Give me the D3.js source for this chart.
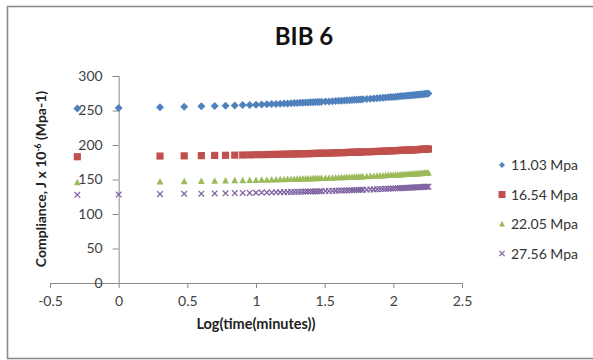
<!DOCTYPE html>
<html>
<head>
<meta charset="utf-8">
<script src="https://cdn.jsdelivr.net/npm/d3@7/dist/d3.min.js"></script>
<style>
  html, body { margin: 0; padding: 0; background: #fff; }
  svg { display: block; font-family: Lato, "Open Sans", sans-serif; }
</style>
</head>
<body>
<svg id="chart" width="593" height="360"></svg>
<script>
// Creep test readings, time in minutes
const timeMin = [0.5,
  1,2,3,4,5,6,7,8,9,10,11,12,13,14,15,16,17,18,19,20,21,22,23,24,25,26,27,28,29,30,
  32,34,36,38,40,42,44,46,48,50,52,54,56,58,60,
  64,68,72,76,80,84,88,92,96,100,104,108,112,116,120,124,128,132,136,140,144,148,152,156,160,164,168,172,176,180];

// Compliance J x 10^-6 (Mpa-1) for each stress level
const s1103 = [253.0,
  253.8,254.8,255.5,256.1,256.6,257.0,257.4,257.8,258.1,258.5,258.8,259.0,259.3,259.6,259.8,260.0,260.3,260.5,260.7,260.9,261.1,261.3,261.5,261.6,261.8,262.0,262.2,262.3,262.5,262.6,
  262.9,263.2,263.5,263.8,264.1,264.3,264.6,264.8,265.0,265.3,265.5,265.7,265.9,266.1,266.3,
  266.7,267.1,267.5,267.8,268.2,268.5,268.8,269.1,269.4,269.7,270.0,270.3,270.6,270.9,271.1,271.4,271.6,271.9,272.1,272.4,272.6,272.8,273.1,273.3,273.5,273.7,274.0,274.2,274.4,274.6];
const s1654 = [183.0,
  null,184.0,184.3,184.6,184.9,185.1,185.3,185.5,185.7,185.9,186.0,186.2,186.3,186.4,186.6,186.7,186.8,186.9,187.0,187.1,187.2,187.3,187.4,187.5,187.6,187.7,187.8,187.9,188.0,188.0,
  188.2,188.3,188.5,188.6,188.8,188.9,189.0,189.2,189.3,189.4,189.5,189.6,189.7,189.8,190.0,
  190.1,190.3,190.5,190.7,190.9,191.1,191.2,191.4,191.6,191.7,191.9,192.0,192.2,192.3,192.4,192.6,192.7,192.8,193.0,193.1,193.2,193.3,193.4,193.6,193.7,193.8,193.9,194.0,194.1,194.2];
const s2205 = [145.5,
  null,146.6,147.1,147.5,147.8,148.1,148.4,148.6,148.8,149.0,149.2,149.4,149.6,149.7,149.9,150.1,150.2,150.3,150.5,150.6,150.7,150.9,151.0,151.1,151.2,151.3,151.4,151.5,151.6,151.7,
  151.9,152.1,152.3,152.5,152.7,152.8,153.0,153.1,153.3,153.4,153.6,153.7,153.9,154.0,154.1,
  154.4,154.6,154.9,155.1,155.3,155.5,155.8,156.0,156.1,156.3,156.5,156.7,156.9,157.1,157.2,157.4,157.6,157.7,157.9,158.1,158.2,158.4,158.5,158.7,158.8,158.9,159.1,159.2,159.4,159.5];
const s2756 = [127.8,
  128.2,128.8,129.2,129.5,129.8,130.0,130.3,130.5,130.6,130.8,131.0,131.1,131.3,131.4,131.5,131.7,131.8,131.9,132.0,132.1,132.3,132.4,132.5,132.6,132.7,132.7,132.8,132.9,133.0,133.1,
  133.3,133.4,133.6,133.7,133.9,134.0,134.2,134.3,134.4,134.5,134.7,134.8,134.9,135.0,135.1,
  135.3,135.6,135.7,135.9,136.1,136.3,136.5,136.7,136.8,137.0,137.2,137.3,137.5,137.6,137.8,137.9,138.0,138.2,138.3,138.4,138.6,138.7,138.8,138.9,139.1,139.2,139.3,139.4,139.5,139.6];

const seriesNames = ["11.03 Mpa", "16.54 Mpa", "22.05 Mpa", "27.56 Mpa"];
const xTicks = [-0.5, 0, 0.5, 1, 1.5, 2, 2.5];
const yTicks = [0, 50, 100, 150, 200, 250, 300];

const series = [
  { name: seriesNames[0], values: s1103, color: "#4F81BD", shape: "diamond" },
  { name: seriesNames[1], values: s1654, color: "#C0504D", shape: "square" },
  { name: seriesNames[2], values: s2205, color: "#9BBB59", shape: "triangle" },
  { name: seriesNames[3], values: s2756, color: "#8064A2", shape: "cross" }
];

const svg = d3.select("#chart");

// outer chart frame
svg.append("rect")
  .attr("x", 7.5).attr("y", 6.5).attr("width", 620).attr("height", 352)
  .attr("fill", "#fff").attr("stroke", "#8a8a8a").attr("stroke-width", 1.6);

const x = d3.scaleLinear().domain([-0.5, 2.5]).range([50, 462]);
const y = d3.scaleLinear().domain([0, 300]).range([283, 76]);

// title
svg.append("text")
  .attr("x", 304).attr("y", 45)
  .attr("text-anchor", "middle")
  .attr("font-size", 24).attr("font-weight", "bold").attr("fill", "#111")
  .text("BIB 6");

// x axis, drawn along y = 0
const xAxis = svg.append("g")
  .attr("transform", `translate(0,${y(0)})`)
  .call(d3.axisBottom(x).tickValues(xTicks).tickSize(5).tickPadding(8)
    .tickFormat(d => String(d)));
xAxis.select(".domain").attr("stroke", "#8a8a8a");
xAxis.selectAll(".tick line").attr("stroke", "#8a8a8a");
xAxis.selectAll(".tick text")
  .attr("font-size", 14).attr("fill", "#404040")
  .attr("font-family", "Lato, 'Open Sans', sans-serif");

// y axis, drawn along x = 0
const yAxis = svg.append("g")
  .attr("transform", `translate(${x(0)},0)`)
  .call(d3.axisLeft(y).tickValues(yTicks).tickSize(6).tickPadding(10));
yAxis.select(".domain").attr("stroke", "#8a8a8a");
yAxis.selectAll(".tick line").attr("stroke", "#8a8a8a");
yAxis.selectAll(".tick text")
  .attr("font-size", 14).attr("fill", "#404040")
  .attr("font-family", "Lato, 'Open Sans', sans-serif");

// axis titles
svg.append("text")
  .attr("x", 256).attr("y", 329)
  .attr("text-anchor", "middle")
  .attr("font-size", 14.5).attr("font-weight", "bold").attr("fill", "#222")
  .text("Log(time(minutes))");

const yTitle = svg.append("text")
  .attr("transform", "translate(46,179) rotate(-90)")
  .attr("text-anchor", "middle")
  .attr("font-size", 14).attr("font-weight", "bold").attr("fill", "#222");
yTitle.append("tspan").text("Compliance, J x 10");
yTitle.append("tspan").attr("font-size", 8.5).attr("dy", -5).text("-6");
yTitle.append("tspan").attr("dy", 5).text(" (Mpa-1)");

// marker shapes
function markerPath(shape, r) {
  switch (shape) {
    case "diamond": return `M0,${-r}L${r},0L0,${r}L${-r},0Z`;
    case "square": return `M${-r},${-r}H${r}V${r}H${-r}Z`;
    case "triangle": return `M0,${-r * 1.1}L${r},${r * 0.8}L${-r},${r * 0.8}Z`;
    case "cross": return `M${-r},${-r}L${r},${r}M${-r},${r}L${r},${-r}`;
  }
}
function drawMarker(g, shape, color, r) {
  const p = g.append("path").attr("d", markerPath(shape, r));
  if (shape === "cross") p.attr("fill", "none").attr("stroke", color).attr("stroke-width", 1.3);
  else p.attr("fill", color);
  return p;
}

const plot = svg.append("g");
series.forEach(s => {
  const pts = timeMin.map((t, i) => ({ t, v: s.values[i] })).filter(d => d.v != null);
  const sizes = { diamond: 4, square: 3.6, triangle: 3.4, cross: 2.8 };
  plot.append("g").selectAll("g")
    .data(pts).join("g")
    .attr("transform", d => `translate(${x(Math.log10(d.t))},${y(d.v)})`)
    .each(function () { drawMarker(d3.select(this), s.shape, s.color, sizes[s.shape]); });
});

// legend
const legend = svg.append("g");
series.forEach((s, i) => {
  const gy = 165 + i * 29.5;
  const lsizes = { diamond: 3, square: 3.5, triangle: 3, cross: 2.6 };
  const g = legend.append("g").attr("transform", `translate(502,${gy})`);
  drawMarker(g, s.shape, s.color, lsizes[s.shape]);
  legend.append("text")
    .attr("x", 511).attr("y", gy + 5)
    .attr("font-size", 14).attr("fill", "#333")
    .text(s.name);
});
</script>
</body>
</html>
